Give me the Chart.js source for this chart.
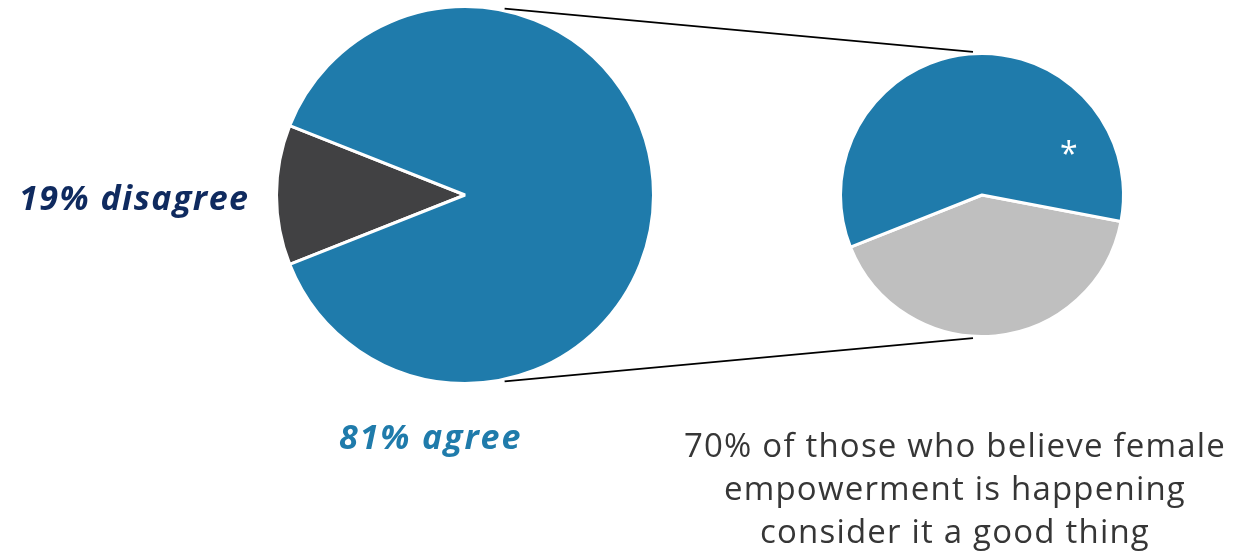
<!DOCTYPE html>
<html>
<head>
<meta charset="utf-8">
<script src="https://cdn.jsdelivr.net/npm/chart.js@4"></script>
<style>
  html, body { margin: 0; padding: 0; background: #fff; }
  #wrap { position: relative; width: 1236px; height: 555px; overflow: hidden; }
  canvas { position: absolute; left: 0; top: 0; }
  .lbl { position: absolute; white-space: nowrap; font-family: "Open Sans", sans-serif; line-height: 1; }
  #disagree { left: 19px; top: 180px; font-size: 34px; font-weight: 700; font-style: italic; color: #0f2a5f; letter-spacing: 1.5px; }
  #agree { left: 339px; top: 419px; font-size: 34px; font-weight: 700; font-style: italic; color: #1f7bab; letter-spacing: 1.9px; }
  #note { left: 655px; top: 423px; width: 600px; font-size: 33px; color: #363636; text-align: center; line-height: 43px; letter-spacing: 1.2px; }
  #star { left: 1060px; top: 137px; font-size: 32px; color: #fff; }
</style>
</head>
<body>
<div id="wrap">
  <canvas id="mainPie" width="1236" height="555"></canvas>
  <canvas id="subPie" width="1236" height="555"></canvas>
  <div class="lbl" id="disagree">19% disagree</div>
  <div class="lbl" id="agree">81% agree</div>
  <div class="lbl" id="note">70% of those who believe female<br>empowerment is happening<br>consider it a good thing</div>
  <div class="lbl" id="star">*</div>
</div>
<script>
// main pie (share of slice as drawn)
const mainLabels = ['Disagree', 'Agree'];
const mainValues = [12, 88];
const mainColors = ['#414143', '#1f7bab'];

// secondary pie (breakdown of agree)
const subLabels = ['Other', 'Good thing'];
const subValues = [41, 59];
const subColors = ['#bfbfbf', '#1f7bab'];

const pieOpts = (padding, rotation) => ({
    responsive: false,
    animation: false,
    rotation: rotation,
    layout: { padding: padding },
    plugins: { legend: { display: false }, tooltip: { enabled: false } },
    events: []
});

const mainChart = new Chart(document.getElementById('mainPie'), {
    type: 'pie',
    data: {
        labels: mainLabels,
        datasets: [{
            data: mainValues,
            backgroundColor: mainColors,
            borderColor: '#fff',
            borderWidth: 3,
            hoverOffset: 0
        }]
    },
    options: pieOpts({ left: 275, right: 581, top: 5, bottom: 170 }, 248.4)
});

// connector lines from main pie to secondary pie
const connectors = {
    id: 'connectors',
    afterDraw(chart) {
        const a = mainChart.getDatasetMeta(0).data[0];
        const b = chart.getDatasetMeta(0).data[0];
        if (!a || !b) return;
        const ctx = chart.ctx;
        const mainTilt = 12 * Math.PI / 180;   // angle off vertical on main pie
        const subTilt = -3.6 * Math.PI / 180;  // angle off vertical on secondary pie
        ctx.save();
        ctx.strokeStyle = '#000';
        ctx.lineWidth = 1.8;
        [-1, 1].forEach(s => {
            const r1 = a.outerRadius + 2;
            const r2 = b.outerRadius + 2;
            const x1 = a.x + r1 * Math.sin(mainTilt);
            const y1 = a.y + s * r1 * Math.cos(mainTilt);
            const x2 = b.x + r2 * Math.sin(subTilt);
            const y2 = b.y + s * r2 * Math.cos(subTilt);
            ctx.beginPath();
            ctx.moveTo(x1, y1);
            ctx.lineTo(x2, y2);
            ctx.stroke();
        });
        ctx.restore();
    }
};

new Chart(document.getElementById('subPie'), {
    type: 'pie',
    data: {
        labels: subLabels,
        datasets: [{
            data: subValues,
            backgroundColor: subColors,
            borderColor: '#fff',
            borderWidth: 3,
            hoverOffset: 0
        }]
    },
    options: pieOpts({ left: 839, right: 111, top: 52, bottom: 217 }, 100.8),
    plugins: [connectors]
});
</script>
</body>
</html>
